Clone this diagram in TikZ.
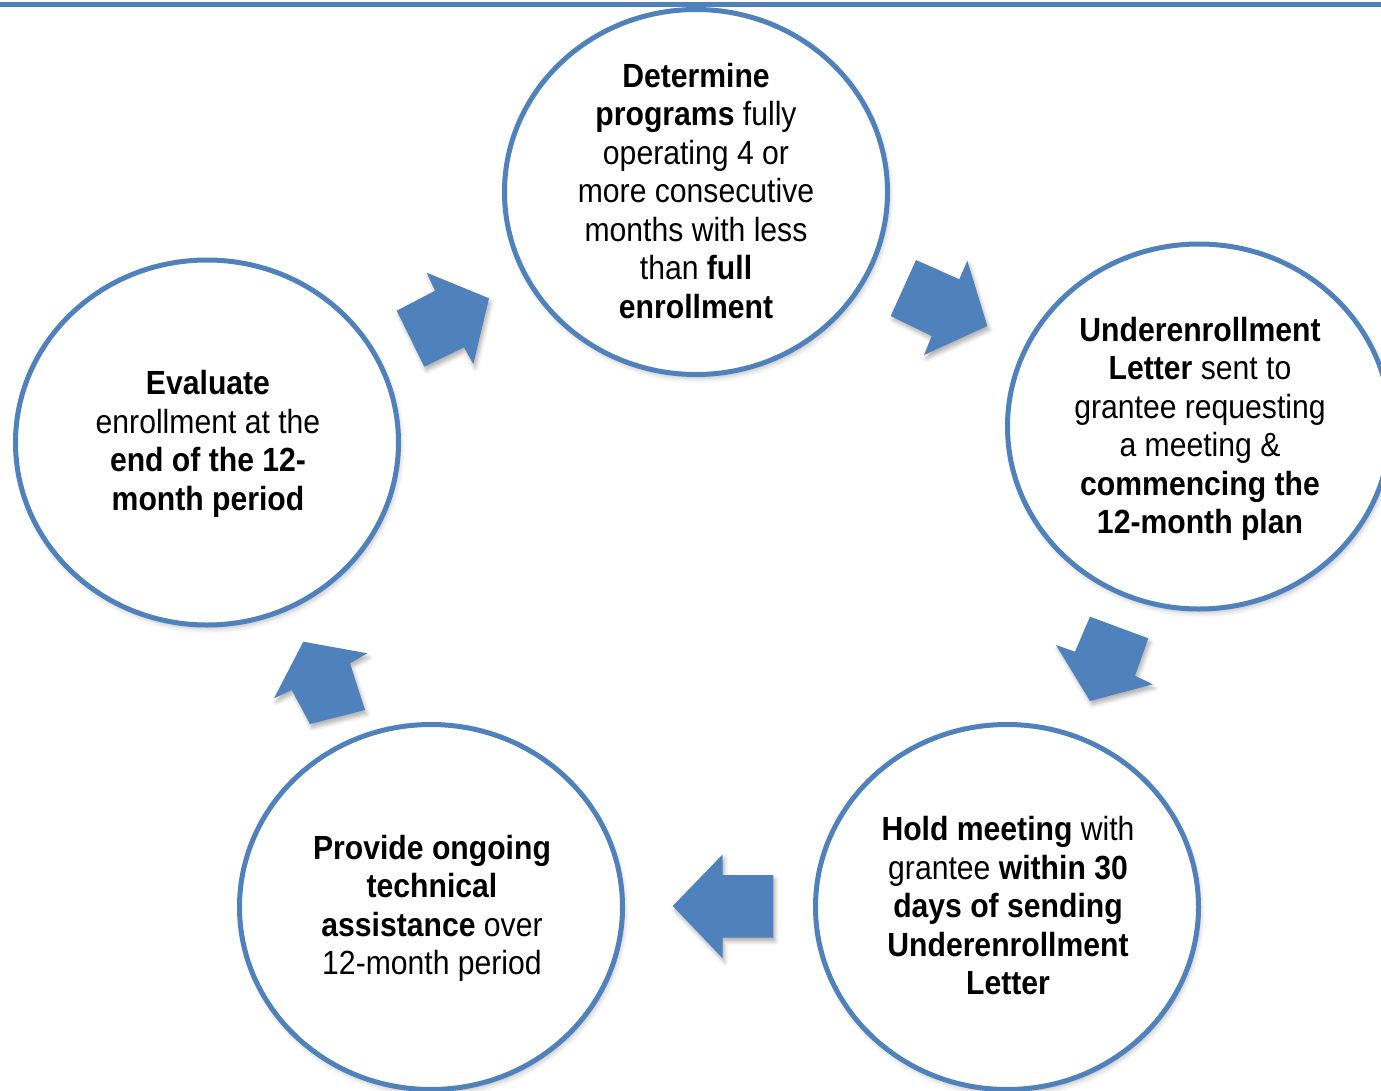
\documentclass[tikz,border=0pt]{standalone}
\usepackage{fontspec}
\setmainfont{Liberation Sans}[FakeStretch=0.9]
\usetikzlibrary{shadows.blur}
\definecolor{accent}{HTML}{4F81BD}
\tikzset{
  ring/.style={draw=accent, line width=5pt, fill=white,
    blur shadow={shadow xshift=2pt, shadow yshift=-4pt, shadow blur radius=5pt, shadow opacity=25}},
  txt/.style={align=center, inner sep=0pt, text=black,
    font=\fontsize{33.5}{38.5}\selectfont},
  blockarrow/.style={fill=accent, draw=none,
    blur shadow={shadow xshift=2pt, shadow yshift=-4pt, shadow blur radius=4pt, shadow opacity=30}},
}
\begin{document}
\begin{tikzpicture}[x=1pt, y=-1pt]
\useasboundingbox (0,0) rectangle (1381,1090);
% top rule
\fill[accent] (0,1.5) rectangle (1381,6.5);
% circles
\path[ring] (696,192) ellipse [x radius=191.5, y radius=182.5];
\path[ring] (1199,426.5) ellipse [x radius=191.5, y radius=182.5];
\path[ring] (1007,907) ellipse [x radius=191.5, y radius=182.5];
\path[ring] (431,907) ellipse [x radius=191.5, y radius=182.5];
\path[ring] (207,442.5) ellipse [x radius=191.5, y radius=182.5];
% texts
\node[txt] (n1) at (696,191) {\textbf{Determine}\\\textbf{programs} fully\\operating 4 or\\more consecutive\\months with less\\than \textbf{full}\\\textbf{enrollment}};
\node[txt] (n2) at (1200,429) {\textbf{Underenrollment}\\\textbf{Letter} sent to\\grantee requesting\\a meeting \&\\\textbf{commencing the}\\\textbf{12-month plan}};
\node[txt] (n3) at (1008,906) {\textbf{Hold meeting} with\\grantee \textbf{within 30}\\\textbf{days of sending}\\\textbf{Underenrollment}\\\textbf{Letter}};
\node[txt] (n4) at (432,908.5) {\textbf{Provide ongoing}\\\textbf{technical}\\\textbf{assistance} over\\12-month period};
\node[txt] (n5) at (208,444) {\textbf{Evaluate}\\enrollment at the\\\textbf{end of the 12-}\\\textbf{month period}};
% block arrows
\path[blockarrow] (396.7,310.7) -- (435,290.7) -- (426.7,272.7) -- (489,298.3) -- (473.3,364) -- (464,347.3) -- (424.3,366.7) -- cycle;
\path[blockarrow] (916,260) -- (959.3,279.3) -- (967.3,260.7) -- (987.3,326) -- (924,355) -- (931.7,336) -- (890.7,316) -- cycle;
\path[blockarrow] (1090,616.7) -- (1148.3,638.3) -- (1135,675.7) -- (1152.7,684.3) -- (1090,701) -- (1056,645) -- (1075,651.7) -- cycle;
\path[blockarrow] (773.3,875) -- (722.7,875) -- (722.7,854.3) -- (672.7,906) -- (722.7,958.3) -- (722.7,937.7) -- (773.3,937.7) -- cycle;
\path[blockarrow] (365,710) -- (350,663.3) -- (367.3,653.3) -- (303.3,641.7) -- (274,698.3) -- (291.7,690) -- (310,724) -- cycle;
\end{tikzpicture}
\end{document}
